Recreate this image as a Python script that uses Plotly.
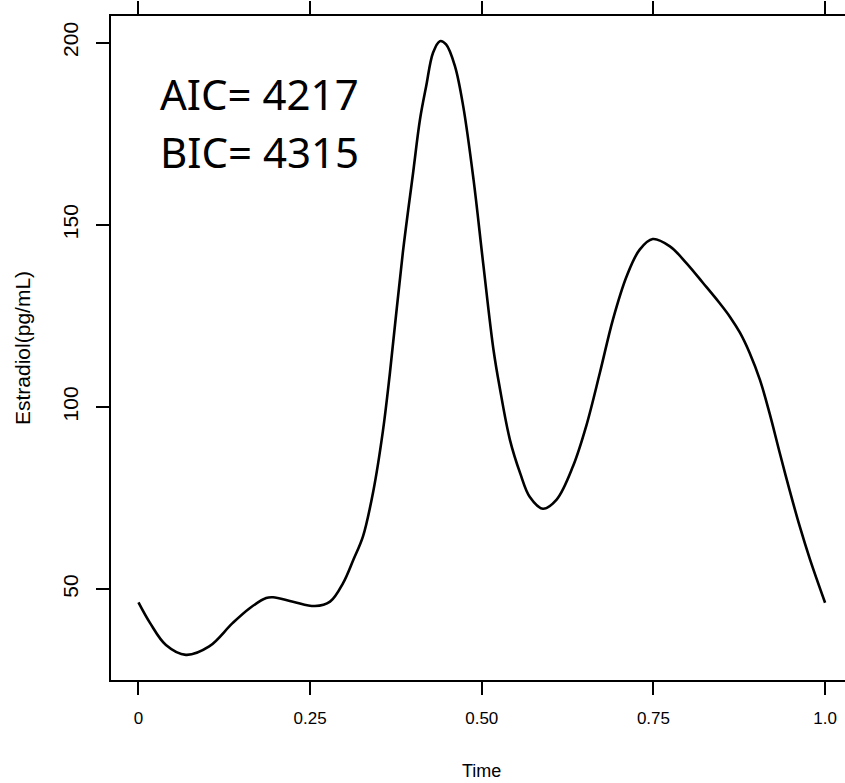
import plotly.graph_objects as go

# Data
time_vals = [0.0, 0.017, 0.04, 0.069, 0.103, 0.137, 0.162, 0.186, 0.196, 0.225,
             0.257, 0.279, 0.298, 0.313, 0.327, 0.342, 0.356, 0.366, 0.385, 0.400,
             0.410, 0.419, 0.429, 0.439, 0.448, 0.461, 0.473, 0.488, 0.502, 0.517,
             0.526, 0.541, 0.556, 0.570, 0.589, 0.609, 0.633, 0.652, 0.672, 0.691,
             0.711, 0.730, 0.749, 0.774, 0.798, 0.822, 0.846, 0.862, 0.876, 0.890,
             0.905, 0.919, 0.934, 0.948, 0.963, 0.978, 1.0]
estradiol = [46.4, 40.7, 34.7, 32.0, 34.3, 40.7, 44.8, 47.6, 47.8, 46.6,
             45.4, 46.6, 51.7, 58.1, 64.5, 76.9, 93.4, 109.0, 142.3, 164.3,
             178.9, 188.0, 197.2, 200.4, 199.5, 193.5, 182.5, 162.4, 139.5, 115.8,
             105.5, 91.0, 81.8, 75.3, 72.1, 74.6, 83.8, 94.7, 109.4, 124.0,
             135.9, 143.2, 146.1, 144.1, 139.5, 134.1, 128.6, 124.6, 120.4, 114.9,
             107.5, 98.4, 87.4, 77.4, 67.3, 58.2, 46.3]

x_tick_vals = [0, 0.25, 0.5, 0.75, 1.0]
x_tick_text = ["0", "0.25", "0.50", "0.75", "1.0"]
y_tick_vals = [50, 100, 150, 200]
y_tick_text = ["50", "100", "150", "200"]

aic_text = "AIC= 4217"
bic_text = "BIC= 4315"

fig = go.Figure()
fig.add_trace(go.Scatter(
    x=time_vals, y=estradiol, mode="lines",
    line=dict(color="black", width=2.6, shape="spline", smoothing=1.0),
    showlegend=False, hoverinfo="skip"))

axis_font = "Liberation Sans, Arial, sans-serif"

fig.update_layout(
    width=845, height=783,
    margin=dict(l=111, r=0, t=16, b=103),
    paper_bgcolor="white", plot_bgcolor="white",
    xaxis=dict(
        range=[-0.04, 1.029], tickvals=x_tick_vals, ticktext=x_tick_text,
        showgrid=False, zeroline=False,
        showline=True, linecolor="black", linewidth=1.8, mirror="ticks",
        ticks="outside", ticklen=13, tickwidth=1.5, tickcolor="black",
        tickfont=dict(family=axis_font, size=17, color="black"),
        ticklabelstandoff=9,
    ),
    yaxis=dict(
        range=[25.1, 207.3], tickvals=y_tick_vals, ticktext=y_tick_text,
        showgrid=False, zeroline=False,
        showline=True, linecolor="black", linewidth=1.8, mirror=False,
        ticks="outside", ticklen=13, tickwidth=1.5, tickcolor="black",
        tickangle=-90,
        tickfont=dict(family=axis_font, size=21, color="black"),
        ticklabelstandoff=10,
    ),
    annotations=[
        dict(text="Time", xref="x", yref="paper", x=0.5, y=(783 - 771 - 103) / (783 - 16 - 103),
             xanchor="center", yanchor="middle", showarrow=False,
             font=dict(family=axis_font, size=18, color="black")),
        dict(text="Estradiol(pg/mL)", xref="paper", yref="paper",
             x=(22 - 111) / (845 - 111), y=0.5, textangle=-90,
             xanchor="center", yanchor="middle", showarrow=False,
             font=dict(family=axis_font, size=21, color="black")),
        dict(text=aic_text, xref="x", yref="y", x=0.028, y=186.0,
             xanchor="left", yanchor="middle", showarrow=False,
             font=dict(family="Noto Sans, Open Sans, sans-serif", size=42, color="black")),
        dict(text=bic_text, xref="x", yref="y", x=0.028, y=170.2,
             xanchor="left", yanchor="middle", showarrow=False,
             font=dict(family="Noto Sans, Open Sans, sans-serif", size=42, color="black")),
    ],
)

fig.write_html("out.html")
